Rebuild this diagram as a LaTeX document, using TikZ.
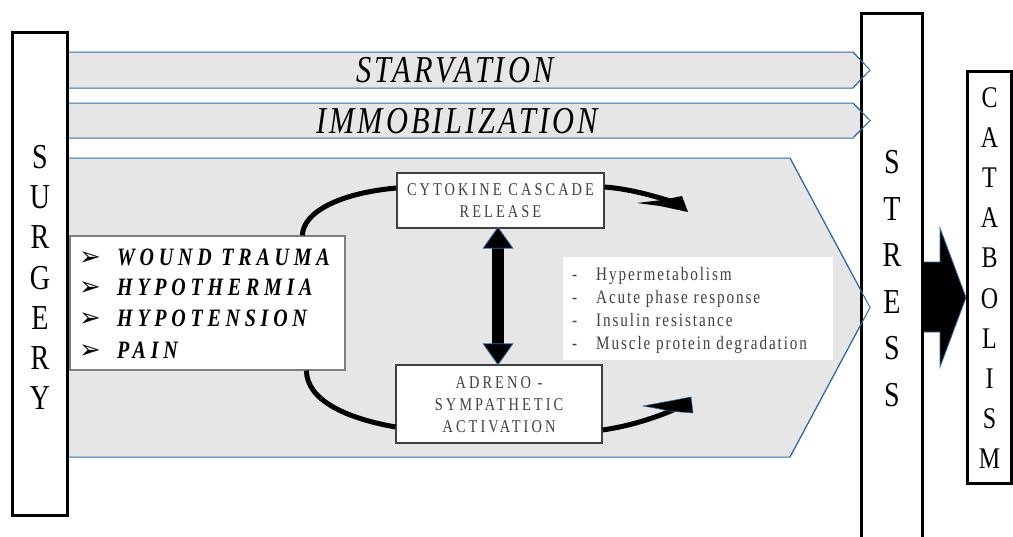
\documentclass[tikz,border=0pt]{standalone}
\usepackage{fontspec}
\setmainfont{Liberation Serif}
\newfontfamily\cnd[FakeStretch=0.8]{Liberation Serif}
\newfontfamily\dejavu{DejaVu Sans}
\usetikzlibrary{arrows.meta,calc}
\definecolor{bandfill}{HTML}{E6E6E6}
\definecolor{bandline}{HTML}{2E6DAA}
\definecolor{txtgray}{HTML}{404040}
\definecolor{boxgray}{HTML}{7F7F7F}
\tikzset{
  band/.style={fill=bandfill, draw=bandline, line width=1pt},
  bandedge/.style={draw=bandline, line width=1pt},
  bigbox/.style={draw=black, line width=3pt, fill=white, inner sep=0pt},
  bandtxt/.style={inner sep=0pt, font={\cnd\itshape\fontsize{38}{40}\selectfont\addfontfeature{LetterSpace=8}}},
  woundtxt/.style={anchor=base west, inner sep=0pt, font={\cnd\bfseries\itshape\fontsize{25}{30}\selectfont\addfontfeature{LetterSpace=19}}},
  bul/.style={anchor=base west, inner sep=0pt, font={\dejavu\fontsize{26}{30}\selectfont}},
  boxtxt/.style={align=center, text=txtgray, inner sep=0pt, font={\cnd\fontsize{18}{22}\selectfont\addfontfeature{LetterSpace=17}}},
  outtxt/.style={anchor=base west, inner sep=0pt, text=txtgray, font={\cnd\fontsize{19}{23}\selectfont\addfontfeature{LetterSpace=10}}},
  midbox/.style={draw=black!75, line width=1.2pt, fill=white, inner sep=0pt},
  curvel/.style={draw=black, line width=5pt},
  headfill/.style={fill=black, draw=bandline, line width=0.5pt},
}
\begin{document}
\begin{tikzpicture}[x=1pt,y=-1pt]
\useasboundingbox (0,0) rectangle (1013,536);
% bands
\draw[band] (40,52) -- (853,52) -- (870,70) -- (853,88) -- (40,88) -- cycle;
\draw[band] (40,103) -- (853,103) -- (870,120.5) -- (853,138) -- (40,138) -- cycle;
\draw[band] (40,158) -- (790,158) -- (870,307.5) -- (790,457) -- (40,457) -- cycle;
\node[bandtxt] (starv) at (455,70) {STARVATION};
\node[bandtxt] (immob) at (457,121) {IMMOBILIZATION};
% big arrow to catabolism
\draw[fill=black, draw=bandline, line width=0.8pt] (915,262) -- (940,262) -- (940,228) -- (966,297.5) -- (940,367) -- (940,332) -- (915,332) -- cycle;
% outer boxes
\node[bigbox, minimum width=55pt, minimum height=483pt] (surgery) at (40,274) {};
\node[align=center, inner sep=0pt, font={\cnd\fontsize{35}{40.2}\selectfont}] (surgerytxt) at (40,277.5) {S\\U\\R\\G\\E\\R\\Y};
\node[bigbox, minimum width=61pt, minimum height=546.5pt] (stress) at (892,286.75) {};
\node[align=center, inner sep=0pt, font={\cnd\fontsize{35}{46.6}\selectfont}] (stresstxt) at (892,278.5) {S\\T\\R\\E\\S\\S};
\node[bigbox, minimum width=44pt, minimum height=412pt] (catab) at (989.5,277.5) {};
\node[align=center, inner sep=0pt, font={\cnd\fontsize{30}{40.2}\selectfont}] (catabtxt) at (989.5,278) {C\\A\\T\\A\\B\\O\\L\\I\\S\\M};
% band tips over the stress box
\draw[bandedge] (853,52) -- (870,70) -- (853,88);
\draw[bandedge] (853,103) -- (870,120.5) -- (853,138);
\draw[bandedge] (790,158) -- (870,307.5) -- (790,457);
% wound box
\node[draw=boxgray, line width=1.2pt, fill=white, minimum width=275pt, minimum height=134pt, inner sep=0pt] (wound) at (207.5,303) {};
\node[bul] (b1) at (79,265) {➢};
\node[bul] (b2) at (79,295) {➢};
\node[bul] (b3) at (79,326.5) {➢};
\node[bul] (b4) at (79,358) {➢};
\node[woundtxt] (w1) at (117,265) {WOUND TRAUMA};
\node[woundtxt] (w2) at (117,295) {HYPOTHERMIA};
\node[woundtxt] (w3) at (117,326.5) {HYPOTENSION};
\node[woundtxt] (w4) at (117,358) {PAIN};
% middle boxes
\node[midbox, minimum width=207pt, minimum height=55pt] (cyto) at (500.5,200.5) {};
\node[boxtxt] (cytotxt) at (500.5,201) {CYTOKINE CASCADE\\RELEASE};
\node[midbox, minimum width=206pt, minimum height=78pt] (adreno) at (499,404) {};
\node[boxtxt] (adrenotxt) at (499,404.5) {ADRENO -\\SYMPATHETIC\\ACTIVATION};
% outcome list
\node[fill=white, minimum width=270pt, minimum height=103pt, inner sep=0pt] (outbox) at (698,308.5) {};
\node[outtxt] (d1) at (572,280) {-};
\node[outtxt] (d2) at (572,303) {-};
\node[outtxt] (d3) at (572,326) {-};
\node[outtxt] (d4) at (572,349) {-};
\node[outtxt] (o1) at (596,280) {Hypermetabolism};
\node[outtxt] (o2) at (596,303) {Acute phase response};
\node[outtxt] (o3) at (596,326) {Insulin resistance};
\node[outtxt] (o4) at (596,349) {Muscle protein degradation};
% curves
\path (wound.north west) ++(233,0) coordinate (wt);
\path (wound.south west) ++(237,0) coordinate (wb);
\path (cyto.west) ++(0,-12.5) coordinate (cl);
\path (cyto.east) ++(0,-13.5) coordinate (cr);
\path (adreno.west) ++(0,23) coordinate (al);
\path (adreno.east) ++(0,26) coordinate (ar);
\path (cyto.south) ++(-2.5,-2) coordinate (dt);
\path (adreno.north) ++(-1,1) coordinate (db);
\coordinate (tend) at (676,203);
\coordinate (bend) at (678,408);
\draw[curvel] (wt) .. controls (303,212) and (340,193) .. (cl);
\draw[curvel] (wb) .. controls (307,400) and (345,418) .. (al);
\draw[curvel] (cr) .. controls (630,189) and (655,196) .. (tend);
\draw[curvel] (ar) .. controls (630,426) and (655,418) .. (bend);
\fill[black] (682,196) -- (688,212) -- (660,206) -- (637,203) -- (662,200) -- cycle;
\draw[headfill] (643,406) -- (691,397) -- (693,413) -- (668,411) -- (660,409) -- cycle;
% double arrow
\draw[line width=12pt, {Triangle[length=22pt 0 0, width=31pt 0 0, color=bandline, fill=black, line width=0.8pt]}-{Triangle[length=22pt 0 0, width=31pt 0 0, color=bandline, fill=black, line width=0.8pt]}] (dt) -- (db);
\end{tikzpicture}
\end{document}
